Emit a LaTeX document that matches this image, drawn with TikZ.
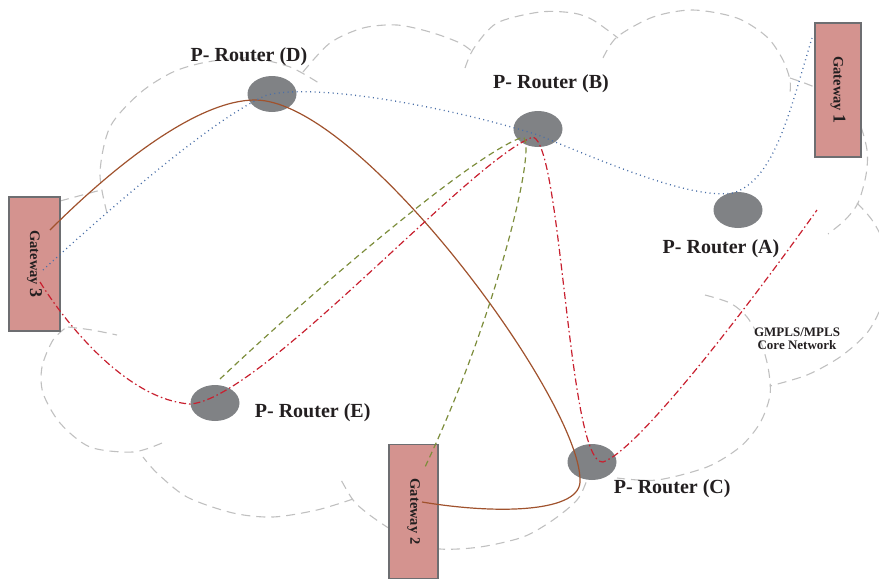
\documentclass[tikz,border=0pt]{standalone}
\usepackage{fontspec}
\setmainfont{Liberation Serif}
\usepackage{tikz}
\usetikzlibrary{shapes.geometric,positioning,calc}

\definecolor{gwfill}{HTML}{D4938F}
\definecolor{gwdraw}{HTML}{6D6E71}
\definecolor{rtfill}{HTML}{808285}
\definecolor{txt}{HTML}{231F20}
\definecolor{cloudgray}{HTML}{C0C0C0}
\definecolor{brownlink}{HTML}{A0522D}
\definecolor{bluelink}{HTML}{4A6FA8}
\definecolor{redlink}{HTML}{C8202F}
\definecolor{greenlink}{HTML}{7D8D3C}

\begin{document}
\begin{tikzpicture}[x=1pt,y=-1pt,
   router/.style={ellipse,fill=rtfill,minimum width=49pt,minimum height=36pt,inner sep=0pt},
   gateway/.style={rectangle,fill=gwfill,draw=gwdraw,line width=1.2pt,rotate=-90,
      minimum width=134pt,minimum height=49pt,inner sep=0pt,text=txt,
      font=\fontsize{14.5}{15}\selectfont\bfseries},
   rlabel/.style={inner sep=0pt,text=txt,font=\fontsize{20}{22}\selectfont\bfseries},
   cloudline/.style={draw=cloudgray,line width=1.1pt,dash pattern=on 9pt off 6pt},
   brownpath/.style={draw=brownlink,line width=1.2pt},
   bluepath/.style={draw=bluelink,line width=1.3pt,dash pattern=on 1pt off 3.5pt},
   redpath/.style={draw=redlink,line width=1.2pt,dash pattern=on 7pt off 3pt on 1.5pt off 3pt},
   greenpath/.style={draw=greenlink,line width=1.2pt,dash pattern=on 6pt off 4pt}]
   \useasboundingbox (0,0) rectangle (879,582);

   % core network cloud
   \draw[cloudline] (60,201) -- (101,190);
   \draw[cloudline] plot[smooth] coordinates {(107,213) (100,173) (110,127) (140,93) (173,72) (207,62) (250,58) (290,67) (322,85)};
   \draw[cloudline] plot[smooth] coordinates {(303,72) (330,43) (363,28) (397,25) (430,32) (460,43) (474,53)};
   \draw[cloudline] plot[smooth] coordinates {(465,68) (474,48) (497,23) (540,12) (573,13) (593,20) (618,38)};
   \draw[cloudline] plot[smooth] coordinates {(603,58) (617,37) (653,17) (693,10) (737,18) (767,37) (783,60) (790,80) (790,93)};
   \draw[cloudline] plot[smooth] coordinates {(790,78) (812,86) (840,100) (858,120) (867,150) (866,175) (858,203) (845,220) (828,234)};
   \draw[cloudline] plot[smooth] coordinates {(857,203) (872,220) (885,245) (890,275) (882,305) (867,333) (840,357) (807,375) (770,386)};
   \draw[cloudline] plot[smooth] coordinates {(705,295) (730,303) (747,317) (760,340) (768,367) (770,395) (760,423) (740,447) (707,467) (657,480) (617,478)};
   \draw[cloudline] plot[smooth] coordinates {(590,468) (587,480) (577,500) (553,520) (523,537) (480,547) (440,549) (410,541) (387,527) (367,513) (353,500) (340,478)};
   \draw[cloudline] plot[smooth] coordinates {(353,499) (317,510) (273,517) (233,513) (187,497) (157,473) (143,457)};
   \draw[cloudline] plot[smooth] coordinates {(162,443) (133,452) (90,447) (60,423) (43,393) (42,367) (53,340) (68,326)};
   \draw[cloudline] plot[smooth] coordinates {(68,327) (92,330) (117,335)};

   % gateways and routers
   \node[gateway,minimum height=51pt] (gw3) at (34.5,264) {Gateway {\fontsize{18}{18}\selectfont 3}};
   \node[gateway,minimum height=46pt] (gw1) at (838,90) {Gateway {\fontsize{18}{18}\selectfont 1}};
   \node[gateway] (gw2) at (413.5,511.5) {Gateway 2};

   \node[router] (rD) at (272,94) {};
   \node[router] (rB) at (538,129) {};
   \node[router] (rA) at (738,210) {};
   \node[router] (rE) at (215,403) {};
   \node[router] (rC) at (592,462) {};

   \node[rlabel] (lD) [above=9.5pt of rD,xshift=-23pt] {P- Router (D)};
   \node[rlabel] (lB) [above=18pt of rB,xshift=13pt] {P- Router (B)};
   \node[rlabel] (lA) [below=11pt of rA,xshift=-17pt] {P- Router (A)};
   \node[rlabel] (lE) [right=15pt of rE,yshift=-10pt] {P- Router (E)};
   \node[rlabel] (lC) [right=-3pt of rC,yshift=-27pt] {P- Router (C)};
   \node[inner sep=0pt,text=txt,align=center,font=\fontsize{13}{13.5}\selectfont\bfseries]
      (core) at (797,339) {GMPLS/MPLS\\Core Network};

   \coordinate (redend) at (817,210);

   % paths
   \draw[brownpath] ($(gw3)+(15.5,-34)$) .. controls (120,160) and (200,100) .. ($(rD)+(-17,6)$)
      .. controls (360,100) and (580,400) .. ($(rC)+(-12,18)$)
      .. controls (582,512) and (500,515) .. ($(gw2)+(8.5,-9.5)$);
   \draw[bluepath] ($(gw3)+(8.5,6)$) .. controls (130,190) and (220,115) .. ($(rD)+(-5,1)$)
      .. controls (320,82) and (460,110) .. ($(rB)+(0,6)$)
      .. controls (600,160) and (690,200) .. ($(rA)+(-5,-17)$)
      .. controls (775,180) and (790,110) .. ($(gw1)+(-26,-52)$);
   \draw[redpath] ($(gw3)+(5.5,18)$) .. controls (70,330) and (130,400) .. ($(rE)+(-25,1)$)
      .. controls (260,400) and (470,160) .. ($(rB)+(-5,8)$)
      .. controls (562,145) and (568,465) .. ($(rC)+(11,0)$)
      .. controls (640,450) and (760,290) .. (redend);
   \draw[greenpath] ($(rE)+(5,-24)$) .. controls (300,303) and (470,155) .. ($(rB)+(-15,8)$)
      .. controls (538,145) and (495,320) .. ($(gw2)+(11.5,-44.5)$);
\end{tikzpicture}
\end{document}
